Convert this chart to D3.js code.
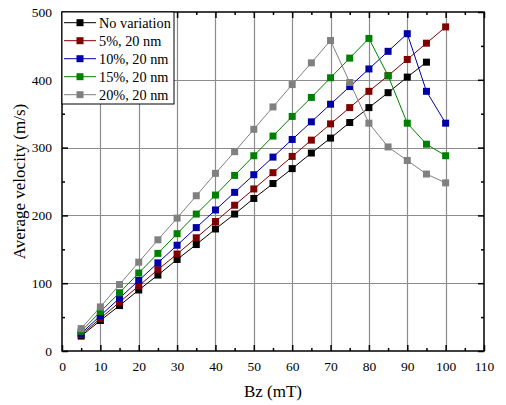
<!DOCTYPE html>
<html><head><meta charset="utf-8">
<script src="https://cdn.jsdelivr.net/npm/d3@7"></script>
<style>body{margin:0;background:#fff}svg{display:block}</style>
</head><body>
<svg id="c" width="506" height="405"></svg>
<script>
const bz = [5,10,15,20,25,30,35,40,45,50,55,60,65,70,75,80,85,90,95,100];
const noVariation = [22,45,67,90,112,135,157,180,202,225,247,269,292,314,337,359,381,404,426];
const var5 = [24,48,72,96,120,143,167,191,215,239,263,287,311,335,359,383,406,430,454,478];
const var10 = [26,52,78,104,130,156,182,208,234,260,286,312,338,364,390,416,442,468,383,336];
const var15 = [29,58,86,115,144,173,202,230,259,288,317,346,374,403,432,461,406,336,305,288];
const var20 = [33,65,98,131,164,196,229,262,294,327,360,393,425,458,396,336,301,281,261,248];
const seriesNames = ["No variation","5%, 20 nm","10%, 20 nm","15%, 20 nm","20%, 20 nm"];
const seriesColors = ["#000000","#800000","#0000a8","#008000","#808080"];
const seriesValues = [noVariation,var5,var10,var15,var20];
const xTicks = [0,10,20,30,40,50,60,70,80,90,100,110];
const yTicks = [0,100,200,300,400,500];

const svg = d3.select("#c");
const L=62, R=484, T=12, B=351;
const x = d3.scaleLinear().domain([0,110]).range([L,R]);
const y = d3.scaleLinear().domain([0,500]).range([B,T]);
const font = "'Liberation Serif','Times New Roman',serif";

// grid
const g = svg.append("g");
g.selectAll(".vg").data(d3.range(10,110,10)).enter().append("line")
  .attr("x1",d=>Math.round(x(d))+0.5).attr("x2",d=>Math.round(x(d))+0.5)
  .attr("y1",T).attr("y2",B).attr("stroke","#8c8c8c").attr("stroke-width",1.2);
g.selectAll(".hg").data([100,200,300,400]).enter().append("line")
  .attr("y1",d=>Math.round(y(d))+0.5).attr("y2",d=>Math.round(y(d))+0.5)
  .attr("x1",L).attr("x2",R).attr("stroke","#8c8c8c").attr("stroke-width",1.2);

// series
const line = d3.line().x((d,i)=>x(bz[i])).y(d=>y(d));
seriesValues.forEach((vals,k)=>{
  svg.append("path").datum(vals).attr("d",line).attr("fill","none")
    .attr("stroke",seriesColors[k]).attr("stroke-width",1);
});
seriesValues.forEach((vals,k)=>{
  svg.selectAll(".m"+k).data(vals).enter().append("rect")
    .attr("x",(d,i)=>x(bz[i])-3.5).attr("y",d=>y(d)-3.5)
    .attr("width",7).attr("height",7).attr("fill",seriesColors[k]);
});

// axes
const axB = svg.append("g").attr("transform",`translate(0,${B})`)
  .call(d3.axisBottom(x).tickValues(xTicks).tickSize(-6).tickPadding(10));
const axBm = svg.append("g").attr("transform",`translate(0,${B})`)
  .call(d3.axisBottom(x).tickValues(d3.range(5,110,10)).tickSize(-3).tickFormat(""));
const axT = svg.append("g").attr("transform",`translate(0,${T})`)
  .call(d3.axisTop(x).tickValues(xTicks).tickSize(-6).tickFormat(""));
const axTm = svg.append("g").attr("transform",`translate(0,${T})`)
  .call(d3.axisTop(x).tickValues(d3.range(5,110,10)).tickSize(-3).tickFormat(""));
const axL = svg.append("g").attr("transform",`translate(${L},0)`)
  .call(d3.axisLeft(y).tickValues(yTicks).tickSize(-6).tickPadding(10));
const axLm = svg.append("g").attr("transform",`translate(${L},0)`)
  .call(d3.axisLeft(y).tickValues(d3.range(50,500,100)).tickSize(-3).tickFormat(""));
const axR = svg.append("g").attr("transform",`translate(${R},0)`)
  .call(d3.axisRight(y).tickValues(yTicks).tickSize(-6).tickFormat(""));
const axRm = svg.append("g").attr("transform",`translate(${R},0)`)
  .call(d3.axisRight(y).tickValues(d3.range(50,500,100)).tickSize(-3).tickFormat(""));
[axB,axBm,axT,axTm,axL,axLm,axR,axRm].forEach(a=>{
  a.attr("font-family",font);
  a.select(".domain").remove();
  a.selectAll(".tick line").attr("stroke","#000").attr("stroke-width",1.5);
  a.selectAll(".tick text").attr("font-family",font).attr("font-size",13.5).attr("fill","#000");
});
svg.append("rect").attr("x",L).attr("y",T).attr("width",R-L).attr("height",B-T)
  .attr("fill","none").attr("stroke","#000").attr("stroke-width",1.5);

// titles
svg.append("text").attr("x",(L+R)/2).attr("y",397).attr("text-anchor","middle")
  .attr("font-family",font).attr("font-size",17).text("Bz (mT)");
svg.append("text").attr("transform",`translate(25,${(T+B)/2}) rotate(-90)`)
  .attr("text-anchor","middle").attr("font-family",font).attr("font-size",17)
  .text("Average velocity (m/s)");

// legend
const lg = svg.append("g");
lg.append("rect").attr("x",62).attr("y",12).attr("width",112).attr("height",92)
  .attr("fill","#fff").attr("stroke","#000").attr("stroke-width",1);
seriesNames.forEach((n,k)=>{
  const yy = 22.7 + k*18;
  lg.append("line").attr("x1",64).attr("x2",96).attr("y1",yy).attr("y2",yy)
    .attr("stroke",seriesColors[k]).attr("stroke-width",1);
  lg.append("rect").attr("x",80-3.5).attr("y",yy-3.5).attr("width",7).attr("height",7)
    .attr("fill",seriesColors[k]);
  lg.append("text").attr("x",99).attr("y",yy+5).attr("font-family",font)
    .attr("font-size",14.3).text(n);
});
</script>
</body></html>
